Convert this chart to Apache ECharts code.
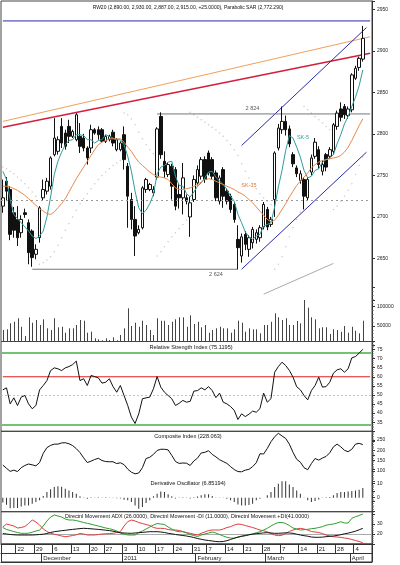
<!DOCTYPE html>
<html><head><meta charset="utf-8">
<script src="https://cdn.jsdelivr.net/npm/echarts@6/dist/echarts.min.js"></script>
<style>html,body{margin:0;padding:0;background:#fff}#c{width:400px;height:565px}</style>
</head><body><div id="c"></div>
<script>
// ---------------- DATA ----------------
const N_SLOTS = 101;
const categories = Array.from({length: N_SLOTS}, (_, i) => String(i));
const weekTickIdx = [4, 9, 14, 19, 24, 28, 33, 37, 42, 47, 52, 56, 61, 66, 71, 76, 81, 86, 91, 96];
const weekTickLbl = ['22','29','6','13','20','27','3','10','17','24','31','7','14','21','28','7','14','21','28','4'];
const monthTickIdx = [11, 33, 53, 72, 95];
const monthTickLbl = ['December','2011','February','March','April'];

const opens = [2713,2743,2733,2705,2697,2681,2705,2693,2683,2655,2675,2723,2731,2737,2775,2779,2809,2801,2809,2797,2793,2797,2795,2783,2783,2805,2805,2805,2791,2793,2802,2781,2781,2799,2761,2721,2697,2681,2687,2733,2733,2729,2748,2821,2767,2751,2761,2757,2727,2723,2723,2700,2721,2741,2749,2769,2777,2769,2753,2719,2757,2731,2725,2715,2673,2653,2679,2661,2669,2673,2675,2688,2709,2691,2721,2783,2805,2815,2806,2775,2759,2744,2745,2723,2754,2773,2781,2755,2775,2773,2779,2809,2830,2833,2822,2829,2867,2880,2890];
const closes = [2723,2731,2679,2684,2675,2697,2703,2657,2651,2661,2711,2733,2743,2771,2795,2793,2789,2785,2797,2803,2823,2785,2783,2771,2805,2801,2799,2791,2797,2797,2789,2793,2789,2769,2725,2697,2677,2685,2735,2745,2739,2733,2806,2775,2755,2763,2737,2713,2723,2747,2719,2717,2745,2757,2769,2745,2753,2749,2723,2747,2725,2719,2709,2697,2663,2676,2667,2675,2685,2681,2687,2715,2688,2697,2777,2807,2815,2805,2788,2764,2752,2752,2725,2745,2771,2790,2763,2763,2760,2781,2811,2825,2820,2823,2830,2871,2879,2891,2915];
const lows = [2705,2719,2672,2675,2665,2675,2699,2643,2640,2649,2669,2720,2727,2733,2773,2775,2783,2781,2789,2795,2791,2777,2779,2763,2777,2799,2793,2789,2789,2791,2785,2779,2779,2757,2687,2685,2653,2679,2685,2729,2731,2725,2745,2770,2747,2748,2721,2708,2710,2703,2715,2676,2718,2738,2745,2741,2750,2745,2719,2715,2711,2715,2705,2693,2637,2645,2660,2652,2662,2668,2670,2685,2684,2688,2700,2780,2800,2798,2784,2760,2748,2740,2709,2720,2750,2770,2758,2750,2755,2770,2775,2805,2815,2818,2818,2826,2865,2876,2887];
const highs = [2745,2748,2737,2712,2713,2702,2710,2697,2685,2667,2713,2745,2747,2773,2819,2797,2819,2805,2817,2805,2825,2813,2800,2785,2811,2807,2809,2807,2799,2799,2805,2795,2791,2809,2765,2729,2713,2690,2737,2747,2741,2737,2808,2826,2779,2766,2764,2760,2740,2765,2727,2724,2750,2762,2772,2773,2780,2772,2756,2750,2760,2734,2728,2718,2690,2680,2683,2678,2688,2685,2690,2718,2712,2700,2779,2812,2833,2822,2810,2778,2762,2756,2748,2748,2775,2795,2785,2768,2777,2784,2813,2828,2838,2836,2833,2873,2882,2893,2930];
const ma5 = [2755,2745,2721,2703,2698,2693,2688,2683,2677,2674,2677,2683,2700,2724,2751,2767,2778,2787,2792,2793,2799,2799,2798,2793,2793,2789,2792,2793,2799,2797,2795,2793,2793,2787,2773,2755,2731,2711,2704,2708,2716,2727,2752,2760,2762,2766,2767,2749,2738,2737,2728,2724,2730,2737,2741,2747,2754,2755,2748,2743,2739,2733,2725,2719,2703,2693,2682,2676,2673,2677,2679,2689,2691,2693,2712,2736,2756,2780,2798,2795,2784,2772,2756,2747,2749,2756,2758,2766,2769,2771,2775,2788,2799,2812,2821,2833,2844,2858,2877];
const ma15 = [2737,2737,2736,2734,2732,2729,2726,2722,2718,2714,2710,2707,2704,2703,2706,2711,2716,2722,2730,2738,2746,2753,2760,2767,2774,2781,2787,2790,2792,2794,2794,2794,2794,2790,2784,2779,2772,2766,2762,2758,2754,2751,2749,2748,2747,2745,2740,2735,2733,2733,2734,2735,2737,2739,2742,2745,2746,2745,2743,2741,2739,2737,2735,2733,2730,2728,2725,2721,2717,2712,2707,2702,2697,2694,2696,2702,2709,2716,2724,2731,2738,2743,2748,2753,2759,2763,2766,2768,2769,2770,2771,2772,2774,2778,2784,2792,2801,2810,2818];
const sar = [2760,2758,2755,2752,2748,2744,2740,2735,2730,2725,2643,2645,2648,2652,2658,2666,2675,2684,2692,2700,2708,2716,2722,2728,2734,2740,2745,2750,2754,2758,2762,2765,2768,2825,2823,2818,2811,2802,2794,2787,2781,2776,2653,2658,2664,2670,2676,2681,2686,2691,2696,2826,2823,2820,2817,2814,2811,2808,2805,2801,2797,2792,2787,2781,2774,2764,2755,2747,2740,2734,2728,2723,2719,2715,2637,2643,2652,2664,2676,2687,2697,2706,2833,2829,2825,2821,2817,2813,2809,2805,2709,2713,2719,2725,2732,2740,2751,2762,2772.29];
const volumes = [39600,41400,57000,61000,70000,48000,24000,72500,58500,65500,52600,67400,44000,39600,70000,46600,48000,32600,44000,44000,52600,65500,63700,32600,35200,18100,15500,13000,18100,13500,20700,13000,26700,44000,95800,50000,58500,48000,63700,52600,39600,26700,70000,63700,63700,52600,61000,67400,72500,72500,48000,77700,55200,61000,46600,52600,32600,39600,44000,48000,44000,44000,32600,41400,63700,58500,35200,44000,41400,41400,31000,52600,52600,61000,82900,72500,65500,70000,52600,52600,63000,57000,117400,97400,72500,67400,44000,46600,46600,29300,41400,39600,35200,50000,32600,48000,37800,31000,63700];
const rsi = [52.8,53.9,45.1,48.4,44.2,48.8,49.7,45.1,42.4,44.2,52.8,55.2,57.9,63.4,64.9,64.4,63.4,64.9,65.6,66.7,68.6,57.9,58.9,55.2,60.7,60.1,59.4,56.5,57.0,58.9,54.6,51.5,55.2,49.7,44.2,37.8,34.3,39.6,47.9,48.4,48.8,53.4,60.1,54.3,51.5,49.7,47.9,44.2,45.4,47.0,46.0,46.5,52.1,52.4,53.9,52.8,54.6,52.4,48.5,51.0,46.0,45.1,43.6,41.5,36.5,39.6,38.1,39.4,41.1,40.5,42.5,51.0,46.0,48.0,62.5,65.6,68.0,66.2,63.5,59.8,54.5,52.8,49.7,47.3,52.4,55.2,59.8,54.3,54.6,57.0,62.0,63.8,64.4,62.5,64.4,70.4,71.1,73.0,75.1195];
const compositeIdx = [128,112,97,103,96,115,126,133,129,124,140,185,213,224,230,230,236,237,232,223,208,189,163,140,147,155,161,150,145,144,144,135,139,130,108,93,85,89,115,160,166,180,199,205,205,202,175,145,136,138,137,126,148,162,187,190,198,180,168,154,145,136,120,106,96,95,103,107,120,139,183,182,209,242,266,283,270,258,230,190,156,142,115,105,135,160,152,162,170,188,217,230,217,200,193,205,230,234,228.063];
const derivOsc = [-3.5,-5.0,-7.5,-7.4,-7.4,-6.2,-5.5,-5.5,-4.3,-3.1,-1.9,1.2,4.0,6.0,7.6,8.1,7.8,6.4,5.2,4.0,2.9,1.0,0.2,-0.7,0.4,0.1,0.3,-0.3,0.3,0.2,-0.2,-0.4,-0.5,-1.4,-1.9,-3.1,-5.5,-7.9,-6.7,-3.8,-1.9,1.0,2.9,4.5,4.0,2.4,1.0,-0.5,-0.3,0.3,-0.3,-0.5,0.4,0.8,1.7,2.4,2.4,1.2,0.2,-0.3,-0.3,-0.7,-1.9,-3.1,-4.8,-5.5,-5.5,-5.2,-4.3,-1.9,-0.7,0.0,1.7,4.0,7.6,10.0,11.7,11.7,9.5,7.6,5.2,2.9,0.2,-1.9,-3.1,-2.4,-1.2,-0.3,0.3,0.5,1.7,3.3,4.0,4.0,4.5,4.8,5.2,5.7,6.85194];
const dmiMinus = [27,30,29,28,26,26.5,27.5,30.5,34,32,29,25,22.5,20.7,19.8,19,18,17.3,17.8,18.5,19.2,20.5,20,19,19,19,19.5,20,20.2,20.5,20.7,21.5,22.3,28,32.3,34,33,31.5,30.5,29.5,28.5,26.5,25.7,25.7,25.5,24.5,24,24,23.5,22.5,21.5,20.7,19.8,19,20.7,22,23.5,24,24,24,25,26.5,27.3,29,30,29.5,28.5,27.5,26.5,25.3,24,23.2,22.2,20.5,19,18.3,18.8,20.5,22.5,24,25,25.7,25,24,22.5,22,21.5,20.5,19,18,17.3,17,16.6,16,15.5,14.5,13.5,12.5,11.3];
const dmiPlus = [26.5,24.5,23.5,22.4,21.5,20.7,20.7,20.8,21.8,23,23.8,28,33,37,39,38,37,35,34,34,33.5,32.5,31.5,30.7,29.8,28.8,28,27,26,25.3,24.3,23,20.8,20,19,19,19,21.5,23,25,27,29,30.5,30,29.5,27,25,23,22.3,22.3,21,19.5,18.5,17.5,19,20,21,22,21,19.5,18,16.7,16,15.8,17,18,18.8,19.3,20.2,21.2,22.3,24,25.7,28,30,31.5,31.5,30.5,28.5,26,25,24,24.3,24.7,25.3,25.7,26.5,27.3,28.8,29.5,30,31,32.3,31,31,35.7,37.3,38.5,40];
const adx = [20.5,20,19.5,19.2,19,19,19,19,19,19.2,19.5,19.8,20.5,21.5,22.3,22.8,23.3,23.7,24.2,24.6,25,25.4,25.7,25.5,25.2,24.9,24.6,24.2,23.8,23.4,22.8,22,21.3,21,20.8,20.7,21,21.3,21.6,22,22.3,22.3,22.3,22,21.5,20.7,20.2,19.5,19,18.5,18,17.3,16.5,15.5,14.7,14,13.5,13,12.5,12.3,12.5,13.3,14.5,15.8,16.8,17.6,18.3,19.2,19.8,20.3,20.7,21.1,21.3,21,20.7,20.7,20.9,21.2,21,20.7,19.8,19,18.3,17.8,17,16.7,16.7,16.9,17.3,17.7,18,18.6,19.3,20.2,20.9,21.8,22.8,24.2,25.7];

// drawn lines (data units: [category index, value])
const trendOrange = [[0, 2815], [100, 2917]];
const trendRed = [[0, 2808], [100, 2897]];
const channelUpper = [[65, 2786], [99, 2928]];
const channelLower = [[65, 2637], [99, 2778]];
const topLevelLine = [[0, 2936], [100, 2936]];
const resistLine = [[42, 2824], [100, 2824]];
const supportLine = [[8, 2637], [64, 2637]];
const volTrendLine = [[71, 2607], [90, 2644]];
const priceDottedLevels = [2720];
const rsiGreenLevels = [73, 33.5];
const rsiRedLevel = [[0, 60], [100, 60]];
const rsiMidLevels = [50];
const dmiLevels = [20];

const titleMain = 'RW20 (2,890.00, 2,930.00, 2,887.00, 2,915.00, +25.0000), Parabolic SAR (2,772.290)';
const titleRsi = 'Relative Strength Index (75.1195)';
const titleCi = 'Composite Index (228.063)';
const titleDo = 'Derivative Oscillator (6.85194)';
const titleDmi = 'Directnl Movement ADX (26.0000), Directnl Movement -DI (11.0000), Directnl Movement +DI(41.0000)';

// ---------------- CHART ----------------
const FONT = '"Liberation Sans", Arial, sans-serif';
const VOL_BASE = 10000;
const weekMap = {}; weekTickIdx.forEach((k, j) => weekMap[k] = weekTickLbl[j]);
const monthMap = {}; monthTickIdx.forEach((k, j) => monthMap[k] = monthTickLbl[j]);

const L = 1, R = 28;
const frame = {show: true, borderColor: '#444', borderWidth: 1, backgroundColor: 'rgba(0,0,0,0)'};
const grids = [
  Object.assign({left: L, right: R, top: 1, height: 340.5}, frame),
  {left: L, right: R, top: 287.4, height: 57.9, show: false},
  Object.assign({left: L, right: R, top: 341.5, height: 89.8}, frame),
  Object.assign({left: L, right: R, top: 431.3, height: 80.4}, frame),
  Object.assign({left: L, right: R, top: 511.7, height: 32.3}, frame)
];

const hiddenX = g => ({type: 'category', gridIndex: g, data: categories, boundaryGap: true, show: false});
const labStyle = {fontSize: 5.5, color: '#222', fontFamily: FONT};

function yAx(g, min, max, interval, fmt, opts) {
  opts = opts || {};
  return {
    type: 'value', gridIndex: g, position: 'right', min: min, max: max, interval: interval,
    axisLine: {show: opts.line !== false, lineStyle: {color: '#333', width: 1}},
    axisTick: {show: true, length: 3, lineStyle: {color: '#333'}},
    minorTick: {show: !!opts.minor, splitNumber: opts.minor || 5, length: 1.5, lineStyle: {color: '#555'}},
    splitLine: {show: false}, minorSplitLine: {show: false},
    axisLabel: Object.assign({show: true, margin: 5, formatter: fmt}, labStyle, {fontSize: 5})
  };
}

const lineS = (data, color, width, extra) => Object.assign({
  type: 'line', xAxisIndex: 0, yAxisIndex: 0, data: data, symbol: 'none', silent: true,
  lineStyle: {color: color, width: width}, z: 3
}, extra || {});

const txt = (text, x, y, size, color) => ({
  type: 'text', x: x, y: y, silent: true, z: 100,
  style: {text: text, fontSize: size, fontFamily: FONT, fill: color,
          align: 'center', textAlign: 'center', verticalAlign: 'middle', textVerticalAlign: 'middle'}
});

const option = {
  animation: false,
  backgroundColor: '#fff',
  textStyle: {fontFamily: FONT},
  grid: grids,
  xAxis: [
    hiddenX(0), hiddenX(1), hiddenX(2), hiddenX(3),
    {type: 'category', gridIndex: 4, data: categories, boundaryGap: true, position: 'bottom',
     axisLine: {show: true, lineStyle: {color: '#333', width: 1}},
     axisTick: {show: true, length: 9, interval: (i) => weekMap[i] !== undefined, lineStyle: {color: '#333'}},
     axisLabel: Object.assign({show: true, margin: 2, align: 'left', verticalAlign: 'top',
       interval: (i) => weekMap[i] !== undefined,
       formatter: (v, i) => weekMap[Number(v)] || ''}, labStyle, {fontSize: 6})},
    {type: 'category', gridIndex: 4, data: categories, boundaryGap: true, position: 'bottom', offset: 9,
     axisLine: {show: true, lineStyle: {color: '#333', width: 1}},
     axisTick: {show: true, length: 9, interval: (i) => monthMap[i] !== undefined, lineStyle: {color: '#333'}},
     axisLabel: Object.assign({show: true, margin: 2, align: 'left', verticalAlign: 'top',
       interval: (i) => monthMap[i] !== undefined,
       formatter: (v, i) => monthMap[Number(v)] || ''}, labStyle, {fontSize: 6})},
    {type: 'category', gridIndex: 4, data: categories, boundaryGap: true, position: 'bottom', offset: 18,
     axisLine: {show: true, lineStyle: {color: '#333', width: 1}},
     axisTick: {show: false}, axisLabel: {show: false}}
  ],
  yAxis: [
    yAx(0, 2550, 2960, 50, v => (v >= 2650 && v <= 2950) ? String(v) : ''),
    yAx(1, 0, 150000, 50000, v => (v === 50000 || v === 100000) ? String(v) : '', {line: false, minor: 5}),
    yAx(2, 30, 79.4, 5, v => (v >= 35 && v <= 75) ? String(v) : '', {minor: 5}),
    yAx(3, -100, 292.8, 50, v => (v >= 100 && v <= 250) ? String(v) : '', {minor: 5}),
    yAx(3, -10, 47.43, 10, v => (v === 0 || v === 10) ? String(v) : '', {line: false, minor: 5}),
    yAx(4, 10, 42.3, 10, v => (v === 20 || v === 30) ? String(v) : '', {minor: 5})
  ],
  graphic: {elements: [
    {type: 'rect', silent: true, shape: {x: 1.5, y: 544, width: 370.5, height: 18},
     style: {fill: 'none', stroke: '#333', lineWidth: 1}},
    txt(titleMain, 188, 8, 5, '#111'),
    txt(titleRsi, 191, 347, 5.6, '#111'),
    txt(titleCi, 188, 436, 5.6, '#111'),
    txt(titleDo, 188, 483, 5.6, '#111'),
    txt(titleDmi, 187, 517, 5.4, '#111'),
    txt('2 824', 252.5, 108, 5.5, '#555'),
    txt('2 624', 216, 274, 5.5, '#555'),
    txt('SK-5', 303, 137, 5.5, '#2f9c9c'),
    txt('SK-15', 249, 185, 5.5, '#e0793a')
  ]},
  series: [
    {type: 'candlestick', xAxisIndex: 0, yAxisIndex: 0, barWidth: 3, silent: true, z: 4,
     data: opens.map((o, i) => [o, closes[i], lows[i], highs[i]]),
     itemStyle: {color: '#fff', color0: '#111', borderColor: '#111', borderColor0: '#111', borderWidth: 1},
     markLine: {silent: true, symbol: ['none', 'none'], label: {show: false},
       data: priceDottedLevels.map(v => ({yAxis: v, lineStyle: {color: '#999', type: [2, 3], width: 1}}))}},
    lineS(ma5, '#2f9c9c', 1, {z: 5}),
    lineS(ma15, '#e8894a', 1, {z: 5}),
    {type: 'scatter', xAxisIndex: 0, yAxisIndex: 0, data: sar, symbolSize: 1.5, silent: true,
     itemStyle: {color: '#bdbdbd'}, z: 2},
    lineS(trendOrange, '#f0a05a', 1),
    lineS(trendRed, '#d21f3c', 1.6),
    lineS(channelUpper, '#2b2ba8', 1),
    lineS(channelLower, '#2b2ba8', 1),
    lineS(topLevelLine, '#2b2ba8', 1),
    lineS(resistLine, '#777', 1),
    lineS(supportLine, '#777', 1),
    lineS(volTrendLine, '#aaa', 1),
    {type: 'custom', xAxisIndex: 1, yAxisIndex: 1, silent: true, z: 2,
     data: volumes.map((v, i) => [i, v]),
     renderItem: function (params, api) {
       const top = api.coord([api.value(0), api.value(1)]);
       const base = api.coord([api.value(0), VOL_BASE]);
       const x = Math.round(top[0]) + 0.5;
       return {type: 'line', shape: {x1: x, y1: top[1], x2: x, y2: base[1]},
               style: {stroke: '#444', lineWidth: 1}};
     }},
    {type: 'line', xAxisIndex: 2, yAxisIndex: 2, data: rsiRedLevel, symbol: 'none', silent: true,
     lineStyle: {color: '#e02020', width: 1}, itemStyle: {color: '#e02020'}, z: 3},
    {type: 'line', xAxisIndex: 2, yAxisIndex: 2, data: rsi, symbol: 'none', silent: true,
     lineStyle: {color: '#111', width: 1}, z: 4,
     markLine: {silent: true, symbol: ['none', 'none'], label: {show: false}, z: 3,
       data: [].concat(
         rsiGreenLevels.map(v => ({yAxis: v, lineStyle: {color: '#74c274', type: 'solid', width: 2}})),
         rsiMidLevels.map(v => ({yAxis: v, lineStyle: {color: '#c4c4c4', type: [2, 2], width: 1}})))}},
    {type: 'line', xAxisIndex: 3, yAxisIndex: 3, data: compositeIdx, symbol: 'none', silent: true,
     lineStyle: {color: '#111', width: 1}},
    {type: 'bar', xAxisIndex: 3, yAxisIndex: 4, data: derivOsc, barWidth: 1, silent: true,
     itemStyle: {color: '#333'}},
    {type: 'line', xAxisIndex: 4, yAxisIndex: 5, data: adx, symbol: 'none', silent: true,
     lineStyle: {color: '#111', width: 1}, z: 4,
     markLine: {silent: true, symbol: ['none', 'none'], label: {show: false}, z: 2,
       data: dmiLevels.map(v => ({yAxis: v, lineStyle: {color: '#aaa', type: 'solid', width: 1}}))}},
    {type: 'line', xAxisIndex: 4, yAxisIndex: 5, data: dmiMinus, symbol: 'none', silent: true,
     lineStyle: {color: '#e03c3c', width: 1}, z: 3},
    {type: 'line', xAxisIndex: 4, yAxisIndex: 5, data: dmiPlus, symbol: 'none', silent: true,
     lineStyle: {color: '#2e9e2e', width: 1}, z: 3}
  ]
};

const chart = echarts.init(document.getElementById('c'), null, {renderer: 'canvas'});
chart.setOption(option);
</script></body></html>
